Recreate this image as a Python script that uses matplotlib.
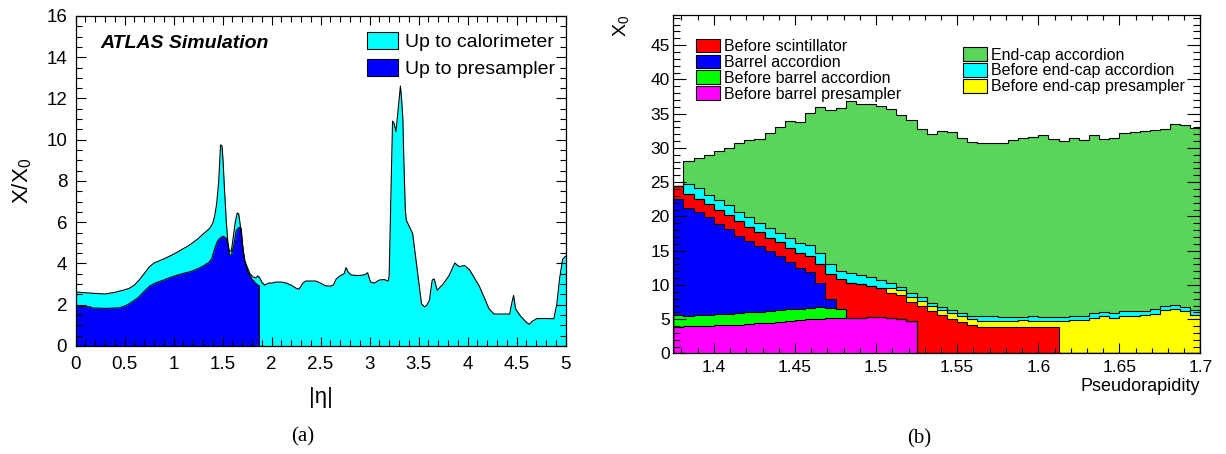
import numpy as np
import matplotlib
matplotlib.use("Agg")
import matplotlib.pyplot as plt
from matplotlib.ticker import MultipleLocator, FormatStrFormatter
from matplotlib.patches import Patch

plt.rcParams['font.family'] = ['Liberation Sans', 'DejaVu Sans']
plt.rcParams['mathtext.fontset'] = 'custom'
plt.rcParams['mathtext.rm'] = 'Liberation Sans'
plt.rcParams['mathtext.it'] = 'Liberation Sans:italic'

# (a) material up to calorimeter / presampler vs |eta|
eta_calo = [0.00, 0.10, 0.20, 0.30, 0.40, 0.50, 0.55, 0.60, 0.65, 0.70, 0.75, 0.80, 0.85, 0.90,
            0.95, 1.00, 1.05, 1.10, 1.15, 1.20, 1.25, 1.30, 1.35, 1.38, 1.40, 1.42, 1.44, 1.46,
            1.47, 1.48, 1.495, 1.505, 1.52, 1.54, 1.555, 1.57, 1.59, 1.61, 1.63, 1.65, 1.665,
            1.68, 1.695, 1.71, 1.73, 1.75, 1.78, 1.81, 1.84, 1.86, 1.88, 1.90, 1.93, 1.97, 2.00,
            2.05, 2.10, 2.15, 2.20, 2.25, 2.28, 2.32, 2.35, 2.40, 2.45, 2.50, 2.55, 2.60, 2.63,
            2.66, 2.70, 2.74, 2.76, 2.78, 2.81, 2.85, 2.90, 2.95, 2.98, 3.01, 3.05, 3.10, 3.15,
            3.19, 3.20, 3.21, 3.225, 3.235, 3.25, 3.27, 3.29, 3.305, 3.315, 3.325, 3.34, 3.35,
            3.365, 3.375, 3.40, 3.44, 3.47, 3.505, 3.53, 3.56, 3.58, 3.61, 3.64, 3.66, 3.69,
            3.75, 3.81, 3.87, 3.915, 3.97, 4.02, 4.12, 4.22, 4.27, 4.43, 4.45, 4.47, 4.49, 4.54,
            4.60, 4.63, 4.66, 4.71, 4.80, 4.88, 4.91, 4.94, 4.97, 5.00]
x0_calo = [2.62, 2.58, 2.55, 2.52, 2.60, 2.72, 2.80, 2.95, 3.20, 3.50, 3.82, 4.02, 4.12, 4.22,
           4.33, 4.45, 4.58, 4.72, 4.85, 5.02, 5.20, 5.42, 5.62, 5.78, 5.95, 6.30, 6.90, 7.90,
           8.80, 9.75, 9.70, 9.00, 7.60, 5.90, 5.00, 4.60, 4.60, 5.30, 6.00, 6.45, 6.40,
           5.90, 5.20, 4.60, 4.10, 3.85, 3.50, 3.35, 3.30, 3.40, 3.30, 3.10, 2.95, 3.05, 3.05,
           3.10, 3.10, 3.05, 2.95, 2.80, 2.75, 3.05, 3.15, 3.15, 3.15, 3.05, 2.92, 2.90, 2.95,
           3.25, 3.40, 3.50, 3.80, 3.60, 3.45, 3.42, 3.42, 3.45, 3.55, 3.10, 3.05, 3.20, 3.22,
           3.15, 3.40, 5.50, 8.50, 10.90, 10.80, 10.40, 11.40, 12.10, 12.60, 12.10, 11.00, 9.00,
           6.60, 6.10, 5.85, 5.45, 4.30, 3.00, 2.05, 1.90, 1.95, 2.20, 3.20, 3.25, 2.70,
           3.00, 3.40, 4.02, 3.85, 3.90, 3.70, 2.90, 1.80, 1.55, 1.55, 2.05, 2.45, 1.80, 1.45,
           1.15, 1.05, 1.20, 1.33, 1.33, 1.32, 2.00, 3.30, 4.20, 4.35]

eta_ps = [0.00, 0.15, 0.16, 0.30, 0.45, 0.52, 0.58, 0.64, 0.70, 0.76, 0.83, 0.90, 1.00, 1.10,
          1.17, 1.25, 1.30, 1.36, 1.39, 1.42, 1.45, 1.48, 1.51, 1.54, 1.555, 1.57, 1.59, 1.615,
          1.64, 1.67, 1.69, 1.705, 1.725, 1.76, 1.80, 1.83, 1.86, 1.875]
x0_ps = [1.93, 1.90, 1.85, 1.82, 1.85, 1.97, 2.15, 2.35, 2.65, 2.92, 3.08, 3.20, 3.38, 3.52,
         3.60, 3.75, 3.87, 4.05, 4.23, 4.72, 5.10, 5.25, 5.32, 5.20, 4.90, 4.40, 4.40, 4.90,
         5.60, 5.75, 5.70, 4.90, 4.10, 3.57, 3.25, 3.08, 2.95, 2.92]

# (b) stacked contributions in the barrel / end-cap transition region
eta_edges = np.linspace(1.375, 1.7, 53)
before_barrel_presampler = [3.9, 4.0, 4.0, 4.05, 4.1, 4.15, 4.2, 4.3, 4.4, 4.5, 4.65, 4.8, 4.9,
                            5.0, 5.1, 5.15, 5.2, 5.2, 5.25, 5.3, 5.3, 5.2, 5.1, 4.7] + [0] * 28
before_barrel_accordion = [1.7, 1.5, 1.55, 1.55, 1.6, 1.65, 1.7, 1.7, 1.7, 1.7, 1.7, 1.65, 1.6,
                           1.7, 1.7, 1.55, 1.3] + [0] * 35
barrel_accordion = [16.9, 15.8, 15.05, 14.3, 13.2, 12.3, 11.3, 10.4, 9.6, 8.7, 7.85, 6.95, 6.0,
                    5.2, 3.5, 1.3] + [0] * 36
before_scintillator = [1.9, 2.0, 2.0, 1.9, 2.1, 2.1, 2.1, 2.1, 2.0, 2.0, 2.0, 2.0, 2.1, 2.3, 2.8,
                       3.6, 4.3, 5.1, 4.85, 4.6, 4.3, 3.6, 3.4, 2.8, 7.0, 6.2, 5.55, 5.05, 4.55,
                       4.1, 3.9, 3.9, 3.85, 3.85, 3.9, 3.9, 3.9, 3.9] + [0] * 14
before_endcap_presampler = [0] * 21 + [0.8, 0.7, 0.7, 0.7, 0.7, 0.75, 0.85, 0.95, 0.95, 0.9, 0.9,
                                       0.9, 0.95, 0.95, 0.9, 0.9, 0.9, 4.72, 4.82, 4.9, 5.2,
                                       5.4, 5.2, 5.5, 5.5, 5.6, 5.8, 6.3, 6.5, 6.2, 5.6]
before_endcap_accordion = [0, 1.5, 1.5, 1.4, 1.4, 1.4, 1.4, 1.4, 1.4, 1.4, 1.4, 1.5, 1.5, 1.6,
                           1.5, 1.5, 1.3, 1.4, 1.3, 1.2, 1.15, 0.7, 0.55, 0.6, 0.5, 0.5, 0.55,
                           0.45, 0.45, 0.45, 0.6, 0.6, 0.55, 0.5, 0.5, 0.6, 0.55, 0.5, 0.58,
                           0.58, 0.6, 0.74, 0.64, 0.65, 0.63, 0.63, 0.63, 0.63, 0.56, 0.6, 0.6,
                           0.68]
endcap_accordion = [0, 3.3, 4.4, 5.8, 7.1, 8.4, 10.0, 11.3, 12.2, 13.9, 15.4, 17.0, 17.7, 19.3,
                    21.3, 22.4, 23.7, 25.1, 25.0, 25.3, 25.4, 25.4, 25.1, 25.3, 24.6, 24.7, 25.6,
                    25.9, 25.5, 25.3, 25.3, 25.3, 25.35, 25.8, 26.1, 26.15, 26.5, 26.0, 25.7,
                    26.1, 25.7, 25.9, 25.3, 25.65, 26.0, 26.2, 26.2, 26.2, 25.9, 26.4, 26.5, 26.6]

stack = [
    (before_barrel_presampler, '#ff00ff', 'Before barrel presampler'),
    (before_barrel_accordion, '#00ff00', 'Before barrel accordion'),
    (barrel_accordion, '#0000ff', 'Barrel accordion'),
    (before_scintillator, '#ff0000', 'Before scintillator'),
    (before_endcap_presampler, '#ffff00', 'Before end-cap presampler'),
    (before_endcap_accordion, '#00ffff', 'Before end-cap accordion'),
    (endcap_accordion, '#59d559', 'End-cap accordion'),
]

fig = plt.figure(figsize=(12.26, 4.54), dpi=100)

# ---------- panel (a) ----------
ax1 = fig.add_axes([0.0616, 0.2379, 0.3997, 0.727])
ax1.fill_between(eta_calo, x0_calo, color='#00ffff', lw=0)
ax1.plot(eta_calo, x0_calo, color='black', lw=0.8)
ax1.fill_between(eta_ps, x0_ps, color='#0000ff', lw=0)
ax1.plot(eta_ps + [eta_ps[-1]], x0_ps + [0], color='black', lw=0.8)
ax1.set_xlim(0, 5)
ax1.set_ylim(0, 16)
ax1.xaxis.set_major_locator(MultipleLocator(0.5))
ax1.xaxis.set_minor_locator(MultipleLocator(0.1))
ax1.yaxis.set_major_locator(MultipleLocator(2))
ax1.yaxis.set_minor_locator(MultipleLocator(0.5))
ax1.xaxis.set_major_formatter(FormatStrFormatter('%g'))
ax1.tick_params(which='both', direction='in', top=True, right=True, width=0.8, labelsize=13.5)
ax1.tick_params(axis='y', which='major', length=7, pad=6)
ax1.tick_params(axis='y', which='minor', length=4.5)
ax1.tick_params(axis='x', which='major', length=6.5, pad=7)
ax1.tick_params(axis='x', which='minor', length=4)
ax1.set_ylabel('X/X$_\\mathregular{0}$', fontsize=16, labelpad=9)
ax1.set_xlabel('|η|', fontsize=16, labelpad=10)
ax1.text(0.051, 0.918, 'ATLAS Simulation', transform=ax1.transAxes, fontsize=14,
         fontweight='bold', fontstyle='italic', va='center', ha='left')
ax1.legend(handles=[Patch(facecolor='#00ffff', edgecolor='black', lw=0.8, label='Up to calorimeter'),
                    Patch(facecolor='#0000ff', edgecolor='black', lw=0.8, label='Up to presampler')],
           loc='upper left', bbox_to_anchor=(0.594, 0.95), frameon=False, fontsize=14,
           handlelength=1.6, handleheight=0.9, handletextpad=0.35, labelspacing=0.42,
           borderpad=0, borderaxespad=0)
for s in ax1.spines.values():
    s.set_linewidth(0.9)

# ---------- panel (b) ----------
ax2 = fig.add_axes([0.5492, 0.2214, 0.430, 0.7456])
bottom = np.zeros(len(eta_edges) - 1)
for values, color, label in stack:
    top = bottom + np.array(values, dtype=float)
    ax2.stairs(top, eta_edges, baseline=bottom, fill=True, color=color, lw=0)
    bottom = top
bottom = np.zeros(len(eta_edges) - 1)
for values, color, label in stack:
    top = bottom + np.array(values, dtype=float)
    ax2.stairs(top, eta_edges, color='black', lw=0.8)
    bottom = top
ax2.set_xlim(1.375, 1.7)
ax2.set_ylim(0, 49.4)
ax2.xaxis.set_major_locator(MultipleLocator(0.05))
ax2.xaxis.set_minor_locator(MultipleLocator(0.01))
ax2.yaxis.set_major_locator(MultipleLocator(5))
ax2.yaxis.set_minor_locator(MultipleLocator(1))
ax2.xaxis.set_major_formatter(FormatStrFormatter('%g'))
ax2.tick_params(which='both', direction='in', top=True, right=True, width=0.8, labelsize=12.5)
ax2.tick_params(axis='y', which='major', length=9.5, pad=2.5)
ax2.tick_params(axis='y', which='minor', length=5)
ax2.tick_params(axis='x', which='major', length=7, pad=4.5)
ax2.tick_params(axis='x', which='minor', length=3.5)
ax2.set_xlabel('Pseudorapidity', fontsize=13, loc='right', labelpad=2)
ax2.set_ylabel('X$_\\mathregular{0}$', fontsize=14, loc='top')
ax2.yaxis.set_label_coords(-0.08, 1.0)
for s in ax2.spines.values():
    s.set_linewidth(0.9)

handles = {label: Patch(facecolor=color, edgecolor='black', lw=0.8, label=label)
           for values, color, label in stack}
leg_font = {'family': ['Liberation Sans Narrow', 'Liberation Sans'], 'size': 11.5}
leg1 = ax2.legend(handles=[handles['Before scintillator'], handles['Barrel accordion'],
                           handles['Before barrel accordion'], handles['Before barrel presampler']],
                  loc='upper left', bbox_to_anchor=(0.043, 0.93), frameon=False, prop=leg_font,
                  handlelength=1.5, handleheight=0.95, handletextpad=0.25, labelspacing=0.03,
                  borderpad=0, borderaxespad=0)
ax2.add_artist(leg1)
ax2.legend(handles=[handles['End-cap accordion'], handles['Before end-cap accordion'],
                    handles['Before end-cap presampler']],
           loc='upper left', bbox_to_anchor=(0.549, 0.905), frameon=False, prop=leg_font,
           handlelength=1.5, handleheight=0.95, handletextpad=0.25, labelspacing=0.03,
           borderpad=0, borderaxespad=0)

fig.text(0.247, 0.037, '(a)', fontsize=15, family=['Liberation Serif', 'DejaVu Serif'],
         ha='center', va='center')
fig.text(0.750, 0.034, '(b)', fontsize=15, family=['Liberation Serif', 'DejaVu Serif'],
         ha='center', va='center')

fig.savefig('out.png', dpi=100)
